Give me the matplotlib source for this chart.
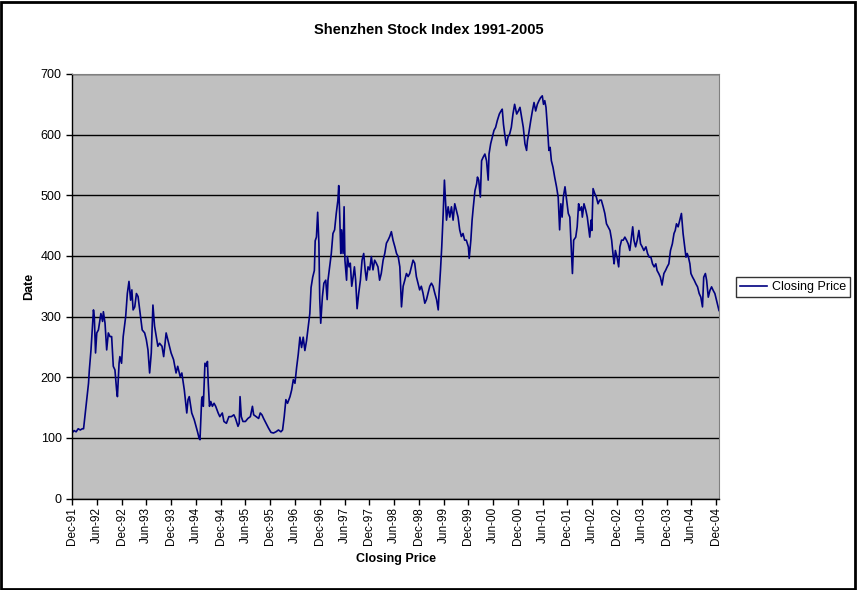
import matplotlib.pyplot as plt
from matplotlib.patches import Rectangle

# months counted from Dec-91, closing price read per point
months = [
    0.0, 0.5, 1.0, 1.5, 2.0, 2.5, 2.8, 3.2, 3.8, 4.0, 4.2, 4.6, 4.9, 5.2, 5.4, 5.7,
    6.0, 6.4, 7.0, 7.4, 7.6, 8.0, 8.4, 8.8, 9.2, 9.6, 10.0, 10.4, 10.8, 11.0, 11.4,
    11.6, 12.0, 12.4, 13.0, 13.4, 13.8, 14.2, 14.5, 14.8, 15.2, 15.6, 16.0, 16.6,
    17.0, 17.6, 18.0, 18.4, 18.8, 19.2, 19.6, 20.0, 20.4, 20.8, 21.2, 21.8, 22.2,
    22.8, 23.2, 23.6, 24.0, 24.6, 25.2, 25.6, 26.2, 26.6, 27.2, 27.8, 28.1, 28.4,
    29.0, 29.6, 30.0, 30.4, 30.8, 31.0, 31.4, 31.6, 31.8, 32.2, 32.6, 32.8, 33.0,
    33.3, 33.6, 34.0, 34.4, 34.8, 35.4, 35.8, 36.4, 36.8, 37.4, 38.0, 38.6, 39.2,
    39.6, 40.2, 40.5, 40.7, 41.0, 41.4, 42.0, 42.6, 43.2, 43.7, 44.0, 44.6, 45.2,
    45.6, 46.0, 46.4, 47.0, 47.6, 48.2, 48.8, 49.4, 50.0, 50.6, 51.0, 51.4, 51.8,
    52.2, 52.8, 53.2, 53.6, 54.0, 54.4, 54.8, 55.2, 55.6, 56.0, 56.4, 56.8, 57.2,
    57.6, 57.9, 58.3, 58.7, 58.9, 59.2, 59.5, 59.8, 60.0, 60.24, 60.65, 61.0, 61.45,
    61.8, 62.0, 62.4, 62.8, 63.2, 63.6, 64.0, 64.4, 64.6, 64.85, 65.1, 65.3, 65.65,
    65.9, 66.1, 66.5, 66.7, 67.1, 67.4, 67.75, 68.1, 68.4, 68.7, 69.05, 69.45, 69.85,
    70.25, 70.65, 71.0, 71.3, 71.7, 72.1, 72.5, 72.9, 73.3, 73.7, 74.1, 74.5, 74.9,
    75.35, 75.75, 76.15, 76.55, 76.95, 77.35, 77.75, 78.2, 78.6, 79.0, 79.4, 79.8,
    80.2, 80.6, 81.0, 81.4, 81.8, 82.2, 82.6, 83.0, 83.4, 83.8, 84.2, 84.6, 85.0,
    85.45, 85.85, 86.25, 86.65, 87.05, 87.45, 87.85, 88.3, 88.7, 88.9, 89.25, 89.55,
    89.9, 90.2, 90.7, 91.1, 91.5, 91.9, 92.3, 92.7, 93.1, 93.5, 93.9, 94.3, 94.7,
    95.1, 95.5, 96.0, 96.2, 96.6, 96.9, 97.2, 97.6, 98.0, 98.2, 98.5, 98.9, 99.2,
    99.6, 100.0, 100.4, 100.8, 101.0, 101.4, 101.8, 102.2, 102.6, 103.0, 103.5,
    103.9, 104.2, 104.5, 104.8, 105.2, 105.6, 106.0, 106.4, 106.8, 107.2, 107.7,
    108.1, 108.5, 108.9, 109.3, 109.7, 110.1, 110.3, 110.6, 111.1, 111.5, 111.9,
    112.3, 112.7, 113.1, 113.5, 113.9, 114.2, 114.5, 114.8, 115.2, 115.5, 115.8,
    116.1, 116.5, 116.9, 117.35, 117.75, 118.1, 118.4, 118.7, 119.0, 119.4, 119.8,
    120.2, 120.57, 121.0, 121.2, 121.5, 122.0, 122.35, 122.7, 123.0, 123.4, 123.6,
    124.0, 124.45, 124.8, 125.1, 125.4, 125.7, 125.9, 126.2, 126.6, 127.0, 127.4,
    127.8, 128.2, 128.65, 129.05, 129.45, 129.85, 130.3, 130.7, 131.1, 131.3, 131.6,
    132.0, 132.4, 132.7, 133.1, 133.5, 133.9, 134.3, 134.7, 135.1, 135.5, 135.8,
    136.1, 136.5, 136.9, 137.3, 137.7, 138.1, 138.5, 139.0, 139.4, 139.8, 140.2,
    140.6, 141.0, 141.4, 141.7, 142.1, 142.5, 142.9, 143.35, 143.75, 144.15, 144.55,
    144.95, 145.4, 145.8, 146.1, 146.4, 146.8, 147.2, 147.6, 148.0, 148.4, 148.7,
    149.0, 149.3, 149.65, 149.9, 150.3, 150.7, 151.1, 151.5, 151.9, 152.3, 152.7,
    153.0, 153.4, 153.7, 154.1, 154.5, 154.9, 155.3, 155.7, 156.1, 156.5, 156.7,
]
close = [
    108, 112, 110, 115, 113, 115, 115, 140, 179, 190, 212, 245, 278, 311, 300, 240,
    273, 278, 305, 292, 308, 289, 245, 273, 267, 267, 218, 212, 179, 168, 223,
    234, 223, 267, 300, 338, 358, 327, 344, 311, 316, 338, 333, 300,
    278, 273, 262, 245, 207, 240, 319, 284, 267, 251, 256, 251, 234,
    273, 262, 251, 240, 229, 207, 218, 201, 207, 179, 141, 163, 168,
    141, 130, 120, 110, 99, 97, 163, 168, 152, 223, 218, 226, 190,
    152, 160, 152, 157, 152, 141, 135, 141, 127, 124, 135, 135, 138,
    132, 119, 124, 168, 135, 127, 127, 132, 135, 152, 138, 135, 132,
    141, 138, 132, 124, 116, 109, 108, 110, 113, 110, 113, 135, 163,
    157, 168, 179, 196, 190, 216, 238, 266, 249, 266, 244, 260, 282,
    305, 348, 365, 376, 425, 431, 472, 420, 330, 289, 333, 355, 360,
    328, 360, 382, 404, 437, 443, 470, 492, 516, 464, 404, 443, 404,
    481, 393, 360, 399, 382, 388, 350, 366, 382, 360, 313, 339, 360,
    393, 404, 377, 360, 382, 377, 399, 377, 393, 388, 382, 360, 371,
    393, 404, 421, 426, 432, 440, 426, 415, 404, 399, 382, 316,
    350, 360, 371, 366, 371, 382, 393, 388, 366, 355, 344, 350, 339,
    322, 328, 339, 350, 355, 350, 339, 328, 311, 339, 377, 415,
    470, 525, 459, 481, 464, 481, 459, 486, 475, 464, 443, 432, 437,
    426, 426, 415, 396, 426, 459, 481, 508, 519, 530, 525, 497, 557,
    563, 568, 557, 525, 568, 585, 596, 607, 612, 623, 634,
    639, 642, 617, 601, 582, 596, 601, 612, 634, 650, 634,
    639, 645, 628, 612, 585, 574, 590, 601, 623, 639, 653,
    639, 650, 656, 661, 664, 650, 656, 645, 607, 574, 579,
    557, 546, 530, 514, 497, 443, 486, 464, 497, 514, 492,
    470, 464, 398, 371, 426, 431, 448, 486, 475, 481, 464,
    486, 475, 464, 448, 431, 459, 442, 511, 503, 497, 486,
    492, 492, 481, 470, 453, 448, 442, 426, 398, 387, 409,
    398, 382, 415, 426, 426, 431, 426, 420, 409, 431, 448,
    426, 415, 426, 442, 420, 415, 409, 415, 404, 398, 398,
    387, 382, 387, 376, 371, 365, 352, 371, 376, 382, 387,
    409, 420, 437, 442, 453, 448, 459, 470, 437, 415, 398,
    404, 398, 387, 371, 365, 360, 354, 349, 338, 332, 316,
    365, 371, 360, 332, 343, 349, 343, 338, 327, 316, 310,
]

tick_months = list(range(0, 157, 6))
tick_labels = []
for i, m in enumerate(tick_months):
    if i % 2 == 0:
        tick_labels.append('Dec-%02d' % ((91 + m // 12) % 100))
    else:
        tick_labels.append('Jun-%02d' % ((92 + m // 12) % 100))

plt.rcParams['font.family'] = ['Liberation Sans', 'DejaVu Sans']

fig = plt.figure(figsize=(8.57, 5.9), dpi=100)
ax = fig.add_axes([72 / 857, 1 - 498.5 / 590, 647 / 857, 424.5 / 590])
ax.set_facecolor('#c0c0c0')

ax.plot(months, close, color='#000080', linewidth=1.2, label='Closing Price')

ax.set_xlim(0, 156.7)
ax.set_ylim(0, 700)
ax.set_yticks(range(0, 701, 100))
ax.yaxis.grid(True, color='black', linewidth=1.0)
ax.set_axisbelow(True)
ax.set_xticks(tick_months)
ax.set_xticklabels(tick_labels, rotation=90, fontsize=8.5)
ax.tick_params(axis='y', labelsize=9, length=4, width=1, direction='out')
ax.tick_params(axis='x', length=4, width=1, direction='out', pad=2)

for side in ['top', 'right']:
    ax.spines[side].set_color('#808080')
for side in ['left', 'bottom']:
    ax.spines[side].set_color('black')
    ax.spines[side].set_linewidth(1.0)

ax.set_xlabel('Closing Price', fontsize=9, fontweight='bold', labelpad=6)
ax.set_ylabel('Date', fontsize=9, fontweight='bold', labelpad=4)
fig.text(0.5, 1 - 30 / 590, 'Shenzhen Stock Index 1991-2005', ha='center', va='center',
         fontsize=10.5, fontweight='bold')

leg = fig.legend(loc='center left', bbox_to_anchor=(736 / 857, 1 - 287 / 590), fontsize=9,
                 frameon=True, fancybox=False, borderpad=0.3, handlelength=2.2,
                 handletextpad=0.4, borderaxespad=0)
leg.get_frame().set_edgecolor('black')
leg.get_frame().set_linewidth(1.0)

fig.patches.append(Rectangle((0.001, 0.002), 0.997, 0.995, transform=fig.transFigure,
                             fill=False, edgecolor='black', linewidth=2))

fig.savefig('out.png', dpi=100)
